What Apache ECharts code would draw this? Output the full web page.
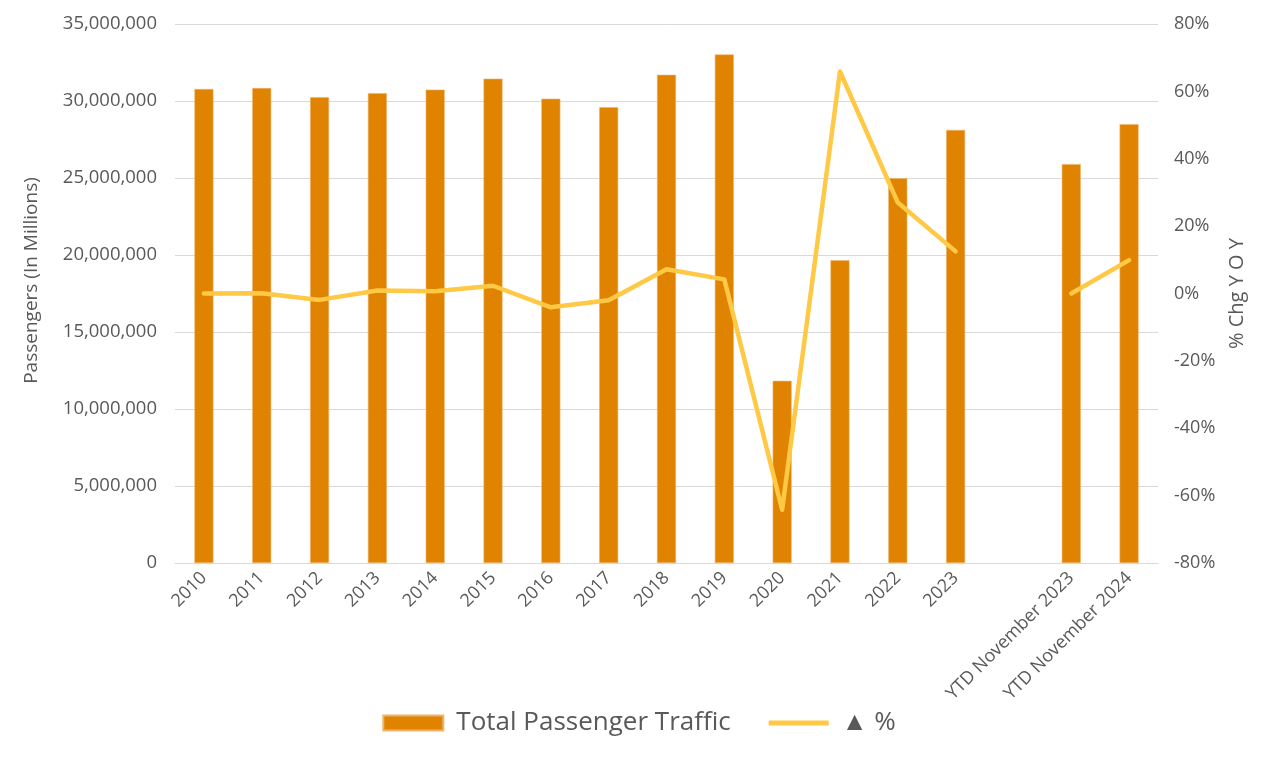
<!DOCTYPE html>
<html>
<head>
<meta charset="utf-8">
<script src="https://cdn.jsdelivr.net/npm/echarts@6/dist/echarts.min.js"></script>
<style>
  html, body { margin: 0; padding: 0; background: #fff; }
  #chart { width: 1278px; height: 775px; }
</style>
</head>
<body>
<div id="chart"></div>
<script>
// categories, with a blank slot between 2023 and the YTD pair
const categories = ['2010', '2011', '2012', '2013', '2014', '2015', '2016', '2017', '2018', '2019',
  '2020', '2021', '2022', '2023', '', 'YTD November 2023', 'YTD November 2024'];
// total passengers
const passengers = [30780000, 30840000, 30250000, 30510000, 30740000, 31450000, 30150000, 29600000,
  31700000, 33020000, 11830000, 19660000, 24980000, 28120000, null, 25900000, 28500000];
// year over year change, percent
const changePct = [0.0, 0.1, -1.9, 0.9, 0.7, 2.3, -4.1, -2.0, 7.2, 4.2, -64.2, 65.9, 27.0, 12.5, null, 0.0, 9.9];

const labelColor = '#595959';
const font = 'Open Sans';

const chart = echarts.init(document.getElementById('chart'));
const option = {
  animation: false,
  textStyle: { fontFamily: font },
  grid: { left: 175, right: 120, top: 24, bottom: 212 },
  legend: {
    bottom: 34,
    left: 'center',
    itemGap: 38,
    itemWidth: 60,
    itemHeight: 15,
    textStyle: { fontFamily: font, fontSize: 26, color: labelColor, padding: [0, 0, 0, 8] },
    data: [
      { name: 'Total Passenger Traffic', icon: 'rect' },
      { name: '▲ %', icon: 'path://M0,0 H60 V5 H0 Z' }
    ]
  },
  xAxis: {
    type: 'category',
    data: categories,
    axisTick: { show: false },
    axisLine: { lineStyle: { color: '#d9d9d9', width: 1 } },
    axisLabel: {
      interval: 0,
      rotate: 45,
      margin: 12,
      fontSize: 18,
      color: labelColor,
      fontFamily: font
    }
  },
  yAxis: [
    {
      type: 'value',
      min: 0,
      max: 35000000,
      interval: 5000000,
      name: 'Passengers (In Millions)',
      nameLocation: 'middle',
      nameGap: 134,
      nameRotate: 90,
      nameTextStyle: { fontSize: 19, color: labelColor, fontFamily: font, padding: [0, 0, 0, 26] },
      axisLine: { show: false },
      axisTick: { show: false },
      splitLine: { lineStyle: { color: '#d9d9d9', width: 1 } },
      axisLabel: {
        fontSize: 18.5,
        margin: 18,
        color: labelColor,
        fontFamily: font,
        formatter: v => v.toLocaleString('en-US')
      }
    },
    {
      type: 'value',
      min: -80,
      max: 80,
      interval: 20,
      name: '% Chg Y O Y',
      nameLocation: 'middle',
      nameGap: 69,
      nameRotate: 90,
      nameTextStyle: { fontSize: 20, color: labelColor, fontFamily: font },
      axisLine: { show: false },
      axisTick: { show: false },
      splitLine: { show: false },
      axisLabel: {
        fontSize: 18,
        margin: 16,
        color: labelColor,
        fontFamily: font,
        formatter: '{value}%'
      }
    }
  ],
  series: [
    {
      name: 'Total Passenger Traffic',
      type: 'bar',
      barWidth: 19,
      itemStyle: { color: '#df8300', borderColor: '#eeb46a', borderWidth: 0.6 },
      data: passengers
    },
    {
      name: '▲ %',
      type: 'line',
      yAxisIndex: 1,
      symbol: 'none',
      connectNulls: false,
      lineStyle: { color: '#ffc845', width: 4.5, cap: 'round', join: 'round' },
      itemStyle: { color: '#ffc845' },
      data: changePct
    }
  ]
};
chart.setOption(option);
</script>
</body>
</html>
